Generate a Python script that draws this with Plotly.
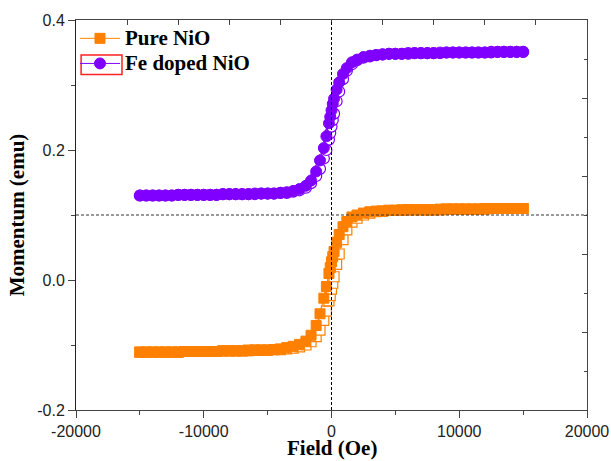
import plotly.graph_objects as go

# Field grid for the descending branch (Oe), +15000 -> -15000
field_desc = [15000, 14500, 14000, 13500, 13000, 12500, 12000, 11500, 11000, 10500,
              10000, 9500, 9000, 8500, 8000, 7500, 7000, 6500, 6000, 5500, 5000,
              4500, 4000, 3500, 3000, 2500, 2000,
              1600, 1200, 900, 600, 400, 200, 100,
              0,
              -100, -200, -400, -600, -900, -1200, -1600,
              -2000, -2500, -3000, -3500, -4000, -4500,
              -5000, -5500, -6000, -6500, -7000, -7500, -8000, -8500, -9000, -9500,
              -10000, -10500, -11000, -11500, -12000, -12500, -13000, -13500, -14000,
              -14500, -15000]
# Ascending branch uses the same field points, -15000 -> +15000
field_asc = field_desc[::-1]

# Pure NiO (emu)
pure_desc = [0.110, 0.110, 0.110, 0.110, 0.110, 0.110, 0.110, 0.109, 0.109, 0.109,
             0.109, 0.109, 0.109, 0.109, 0.108, 0.108, 0.108, 0.108, 0.108, 0.108, 0.107,
             0.107, 0.106, 0.106, 0.105, 0.103, 0.100,
             0.097, 0.090, 0.082, 0.070, 0.058, 0.044, 0.036,
             0.028,
             0.019, 0.010, -0.010, -0.028, -0.052, -0.070, -0.085,
             -0.094, -0.099, -0.102, -0.104, -0.106, -0.107,
             -0.108, -0.108, -0.108, -0.109, -0.109, -0.109, -0.109, -0.109, -0.110, -0.110,
             -0.110, -0.110, -0.110, -0.110, -0.111, -0.111, -0.111, -0.111, -0.111,
             -0.111, -0.111]
pure_asc = [-0.111, -0.111, -0.111, -0.111, -0.111, -0.111, -0.111, -0.110, -0.110, -0.110,
            -0.110, -0.110, -0.110, -0.109, -0.109, -0.109, -0.109, -0.108, -0.108, -0.108,
            -0.108, -0.107, -0.107, -0.106, -0.105, -0.103, -0.100,
            -0.095, -0.087, -0.077, -0.062, -0.048, -0.032, -0.024,
            -0.014,
            -0.005, 0.005, 0.024, 0.040, 0.062, 0.077, 0.089,
            0.095, 0.100, 0.103, 0.105, 0.106, 0.107,
            0.107, 0.107, 0.108, 0.108, 0.108, 0.108, 0.108, 0.108, 0.109, 0.109,
            0.109, 0.109, 0.109, 0.109, 0.109, 0.110, 0.110, 0.110, 0.110,
            0.110, 0.110]

# Fe doped NiO (emu)
fe_desc = [0.351, 0.351, 0.351, 0.351, 0.351, 0.350, 0.350, 0.350, 0.350, 0.350,
           0.350, 0.350, 0.350, 0.349, 0.349, 0.349, 0.349, 0.349, 0.348, 0.348, 0.348,
           0.348, 0.347, 0.346, 0.345, 0.343, 0.339,
           0.335, 0.326, 0.317, 0.304, 0.293, 0.279, 0.271,
           0.261,
           0.251, 0.241, 0.221, 0.203, 0.184, 0.167, 0.153,
           0.145, 0.140, 0.137, 0.135, 0.134, 0.133,
           0.133, 0.133, 0.132, 0.132, 0.132, 0.132, 0.132, 0.132, 0.131, 0.131,
           0.131, 0.131, 0.131, 0.131, 0.131, 0.130, 0.130, 0.130, 0.130,
           0.130, 0.130]
fe_asc = [0.130, 0.130, 0.130, 0.130, 0.130, 0.130, 0.131, 0.131, 0.131, 0.131,
          0.131, 0.131, 0.131, 0.132, 0.132, 0.132, 0.132, 0.132, 0.133, 0.133,
          0.133, 0.133, 0.134, 0.134, 0.136, 0.138, 0.142,
          0.149, 0.160, 0.171, 0.187, 0.200, 0.216, 0.226,
          0.236,
          0.246, 0.256, 0.275, 0.290, 0.309, 0.322, 0.332,
          0.338, 0.342, 0.344, 0.346, 0.347, 0.348,
          0.348, 0.348, 0.349, 0.349, 0.349, 0.349, 0.349, 0.350, 0.350, 0.350,
          0.350, 0.350, 0.350, 0.350, 0.350, 0.351, 0.351, 0.351, 0.351,
          0.351, 0.351]

series_names = ["Pure NiO", "Fe doped NiO"]
x_ticks = [-20000, -10000, 0, 10000, 20000]
y_ticks = [-0.2, 0.0, 0.2, 0.4]

ORANGE = "#ff8000"
PURPLE = "#8000ff"

fig = go.Figure()

# ascending branches (open markers, drawn underneath)
fig.add_trace(go.Scatter(x=field_asc, y=pure_asc, mode="lines+markers", showlegend=False,
                         line=dict(color=ORANGE, width=1),
                         marker=dict(symbol="square", size=10, color="white",
                                     line=dict(color=ORANGE, width=1.2))))
fig.add_trace(go.Scatter(x=field_asc, y=fe_asc, mode="lines+markers", showlegend=False,
                         line=dict(color=PURPLE, width=1),
                         marker=dict(symbol="circle", size=11, color="white",
                                     line=dict(color=PURPLE, width=1.2))))
# descending branches (filled markers)
legend_span = '<span style="font-size:21px"><b>%s</b></span>'
fig.add_trace(go.Scatter(x=field_desc, y=pure_desc, mode="lines+markers",
                         name=legend_span % series_names[0],
                         line=dict(color=ORANGE, width=1),
                         marker=dict(symbol="square", size=10, color=ORANGE,
                                     line=dict(color=ORANGE, width=1))))
fig.add_trace(go.Scatter(x=field_desc, y=fe_desc, mode="lines+markers",
                         name=legend_span % series_names[1],
                         line=dict(color=PURPLE, width=1),
                         marker=dict(symbol="circle", size=11, color=PURPLE,
                                     line=dict(color=PURPLE, width=1))))
# dummy trace to activate the mirror axes
fig.add_trace(go.Scatter(x=[None], y=[None], xaxis="x2", yaxis="y2", showlegend=False,
                         hoverinfo="skip"))

# reference lines
fig.add_shape(type="line", xref="x", yref="paper", x0=0, x1=0, y0=0, y1=1,
              line=dict(color="black", width=1, dash="3px,2px"))
fig.add_shape(type="line", xref="paper", yref="y", x0=0, x1=1, y0=0.1, y1=0.1,
              line=dict(color="#333", width=1, dash="3px,2px"))
# red selection box around the legend symbol
fig.add_shape(type="rect", xref="paper", yref="paper", x0=0.010, x1=0.090, y0=0.860, y1=0.910,
              line=dict(color="#ff2020", width=1.5), fillcolor="rgba(0,0,0,0)")

tick_font = dict(family="Liberation Sans, Arial, sans-serif", size=16, color="#222")
title_font = dict(family="Liberation Serif, Times New Roman, serif", size=21, color="black")

# x-axis title placed as an annotation below the tick labels
fig.add_annotation(text="<b>Field (Oe)</b>", xref="paper", yref="paper", x=0.5, y=-0.098,
                   xanchor="center", yanchor="middle", showarrow=False, font=title_font)

fig.update_layout(
    width=611, height=461,
    margin=dict(l=76, r=24, t=20, b=51, autoexpand=False),
    paper_bgcolor="white", plot_bgcolor="white",
    xaxis=dict(range=[-20000, 20000], tickvals=x_ticks, ticktext=[str(v) for v in x_ticks],
               ticks="outside", ticklen=7, tickwidth=1, tickcolor="#444", automargin=False,
               showline=True, linecolor="#444", linewidth=1, showgrid=False, zeroline=False,
               tickfont=tick_font,
               minor=dict(dtick=5000, ticks="outside", ticklen=4, tickcolor="#444", showgrid=False)),
    yaxis=dict(range=[-0.2, 0.4], tickvals=y_ticks, ticktext=["%.1f" % v for v in y_ticks],
               ticks="outside", ticklen=7, tickwidth=1, tickcolor="#444", automargin=False,
               showline=True, linecolor="#222", linewidth=1, showgrid=False, zeroline=False,
               tickfont=tick_font,
               minor=dict(dtick=0.1, ticks="outside", ticklen=4, tickcolor="#444", showgrid=False),
               title=dict(text="<b>Momentum (emu)</b>", font=title_font, standoff=6)),
    xaxis2=dict(overlaying="x", side="top", anchor="y", range=[-20000, 20000], automargin=False,
                tick0=0, dtick=4000, ticks="inside", ticklen=5, tickcolor="#444",
                showticklabels=False, showline=True, linecolor="#444", linewidth=1,
                showgrid=False, zeroline=False),
    yaxis2=dict(overlaying="y", side="right", anchor="x", range=[-0.2, 0.4], automargin=False,
                tick0=0.4, dtick=0.12, ticks="inside", ticklen=5, tickcolor="#444",
                showticklabels=False, showline=True, linecolor="#444", linewidth=1,
                showgrid=False, zeroline=False,
                minor=dict(dtick=0.06, tick0=0.4, ticks="inside", ticklen=3, tickcolor="#444")),
    legend=dict(x=-0.002, y=0.998, xanchor="left", yanchor="top", bgcolor="rgba(0,0,0,0)",
                font=dict(family="Liberation Serif, Times New Roman, serif", size=17, color="black"),
                tracegroupgap=0, itemwidth=40),
    showlegend=True,
)

fig.write_html("out.html", config={"displayModeBar": False},
               post_script="document.body.style.margin='0';document.body.style.overflow='hidden';")
